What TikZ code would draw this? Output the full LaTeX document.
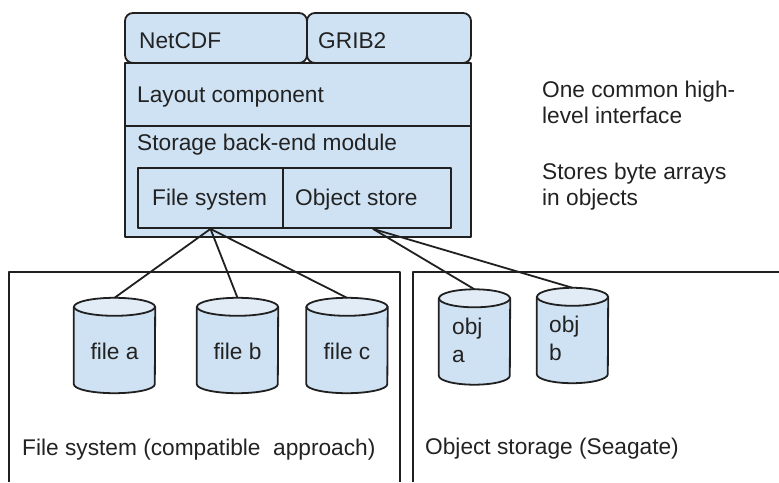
\documentclass[tikz,border=0pt]{standalone}
\usepackage{fontspec}
\setmainfont{Liberation Sans}
\definecolor{boxfill}{HTML}{CFE2F3}
\definecolor{topfill}{HTML}{E1ECF7}
\definecolor{inkline}{HTML}{202020}
\definecolor{inktext}{HTML}{222222}
\begin{document}
\begin{tikzpicture}[x=1pt,y=-1pt,
  line join=round,
  txt/.style={inner sep=0pt, text=inktext, font=\fontsize{22.7}{26}\selectfont},
  objtxt/.style={txt, font=\fontsize{22.7}{28}\selectfont},
  layerbox/.style={draw=inkline, line width=1.8pt, fill=boxfill},
  tabbox/.style={layerbox, rounded corners=8pt},
  cylslot/.style={inner sep=0pt, minimum width=#1, minimum height=95pt},
  cylbody/.style={draw=inkline, line width=1.8pt, fill=boxfill},
  cyltop/.style={draw=inkline, line width=1.8pt, fill=topfill},
  wire/.style={draw=inkline, line width=1.8pt},
  frame/.style={draw=inkline, line width=1.8pt}]
\useasboundingbox (0,0) rectangle (779,482);

% storage regions, open at the bottom
\draw[frame] (9,482) -- (9,272) -- (400,272) -- (400,482);
\draw[frame] (413,482) -- (413,272) -- (779,272);
\node[txt, anchor=base west] (fslbl) at (22,455) {File system (compatible\ \ approach)};
\node[txt, anchor=base west] (oslbl) at (425,454) {Object storage (Seagate)};

% stacked software layers
\draw[tabbox] (125,13) rectangle (307,63);
\draw[tabbox] (307,13) rectangle (471,63);
\node[txt, anchor=base west] (netcdf) at (139,48) {NetCDF};
\node[txt, anchor=base west] (grib) at (318,48) {GRIB2};
\draw[layerbox] (125,63) rectangle (471,126);
\node[txt, anchor=base west] (layout) at (137,102) {Layout component};
\draw[layerbox] (125,126) rectangle (471,237);
\node[txt, anchor=base west] (backend) at (137,150) {Storage back-end module};
\node[layerbox, inner sep=0pt, minimum width=145pt, minimum height=60pt] (fs) at (210.5,198) {};
\node[layerbox, inner sep=0pt, minimum width=168pt, minimum height=60pt] (os) at (367,198) {};
\node[txt, anchor=base west] (fstxt) at (152,205) {File system};
\node[txt, anchor=base west] (ostxt) at (295,205) {Object store};

% side notes
\node[txt, anchor=north west, align=left] (note1) at (542,81) {One common high-\\level interface};
\node[txt, anchor=north west, align=left] (note2) at (542,163) {Stores byte arrays\\in objects};

% cylinders
\node[cylslot=81pt] (fa) at (114.5,345.5) {};
\node[cylslot=81pt] (fb) at (237.5,345.5) {};
\node[cylslot=81pt] (fc) at (347,345.5) {};
\node[cylslot=71pt] (oa) at (474.5,337) {};
\node[cylslot=71pt] (ob) at (572.5,335.5) {};
\foreach \n/\r in {fa/40.5, fb/40.5, fc/40.5, oa/35.5, ob/35.5}{
  \draw[cylbody] ([yshift=-9pt]\n.north west) -- ([yshift=9pt]\n.south west)
    arc[start angle=180, end angle=360, x radius=\r pt, y radius=9pt]
    -- ([yshift=-9pt]\n.north east) -- cycle;
  \draw[cyltop] ([yshift=-9pt]\n.north) ellipse[x radius=\r pt, y radius=9pt];
}
\node[txt, anchor=base] (fatxt) at (114.5,359) {file a};
\node[txt, anchor=base] (fbtxt) at (237.5,359) {file b};
\node[txt, anchor=base] (fctxt) at (347,359) {file c};
\node[objtxt, anchor=north west, align=left] (oatxt) at (452,318) {obj\\a};
\node[objtxt, anchor=north west, align=left] (obtxt) at (549,316) {obj\\b};

% connectors from the back-end drivers to their stores
\draw[wire] (fs.south) -- (fa.north);
\draw[wire] (fs.south) -- (fb.north);
\draw[wire] (fs.south) -- (fc.north);
\draw[wire] ([xshift=6pt]os.south) -- (oa.north);
\draw[wire] ([xshift=6pt]os.south) -- (ob.north);
\end{tikzpicture}
\end{document}
